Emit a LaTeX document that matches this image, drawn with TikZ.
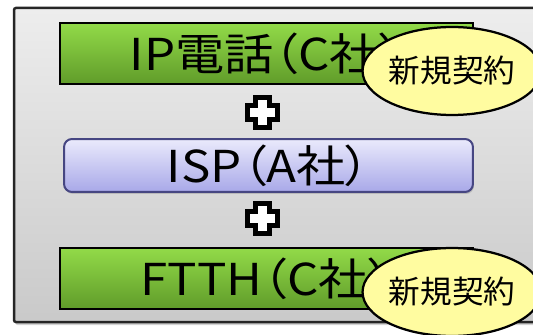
\documentclass[tikz,border=0pt]{standalone}
\usepackage{fontspec}
\setmainfont[RawFeature=+palt]{Noto Sans CJK JP}
\newfontfamily\boxfont[RawFeature=+palt, FakeStretch=1.12]{Noto Sans CJK JP}
\usetikzlibrary{shapes.geometric,shadows}
\tikzset{
  frame/.style={draw=black!85, line width=0.05cm, top color=black!7, bottom color=black!21,
    drop shadow={opacity=0.35, shadow xshift=0.03cm, shadow yshift=-0.06cm}},
  greenbox/.style={draw=black, line width=0.045cm,
    minimum width=8.26cm, minimum height=1.22cm, inner sep=0pt, font=\boxfont\fontsize{25}{30}\selectfont},
  ispbox/.style={line width=0.04cm, rounded corners=0.16cm,
    minimum width=8.18cm, minimum height=1.06cm, inner sep=0pt, font=\boxfont\fontsize{25}{30}\selectfont,
    drop shadow={opacity=0.35, shadow xshift=0.02cm, shadow yshift=-0.04cm}},
  badge/.style={ellipse, draw=black, line width=0.045cm, minimum width=3.56cm, minimum height=1.76cm,
    inner sep=0pt, font=\fontsize{18}{22}\selectfont},
  plusmark/.style={draw=black, fill=white, line width=0.1cm, miter limit=10}
}
\definecolor{gtop}{RGB}{146,218,72}
\definecolor{gbot}{RGB}{96,156,42}
\definecolor{itop}{RGB}{234,234,252}
\definecolor{ibot}{RGB}{168,168,232}
\definecolor{iline}{RGB}{70,70,130}
\definecolor{ybadge}{RGB}{255,252,160}
\begin{document}
\begin{tikzpicture}[x=0.02cm, y=-0.02cm]
\useasboundingbox (0,0) rectangle (533,334);
\draw[frame, rounded corners=0.04cm] (14,8) rectangle (560,322);
\node[greenbox, top color=gtop, bottom color=gbot] (ipphone) at (266.5,53.5) {IP電話（C社）};
\node[ispbox, top color=itop, bottom color=ibot, draw=iline] (isp) at (268.5,165.5) {ISP（A社）};
\node[greenbox, top color=gtop, bottom color=gbot] (ftth) at (266.5,278.5) {FTTH（C社）};
\node[badge, fill=ybadge] (new1) at (452,71) {新規契約};
\node[badge, fill=ybadge] (new2) at (452,292) {新規契約};
\coordinate (p1) at (262,113);
\coordinate (p2) at (262,218);
\foreach \p in {p1,p2}{
  \draw[plusmark] ([shift={(-7,-15)}]\p) -- ([shift={(7,-15)}]\p) -- ([shift={(7,-7)}]\p) -- ([shift={(15,-7)}]\p)
    -- ([shift={(15,7)}]\p) -- ([shift={(7,7)}]\p) -- ([shift={(7,15)}]\p) -- ([shift={(-7,15)}]\p)
    -- ([shift={(-7,7)}]\p) -- ([shift={(-15,7)}]\p) -- ([shift={(-15,-7)}]\p) -- ([shift={(-7,-7)}]\p) -- cycle;
}
\end{tikzpicture}
\end{document}
